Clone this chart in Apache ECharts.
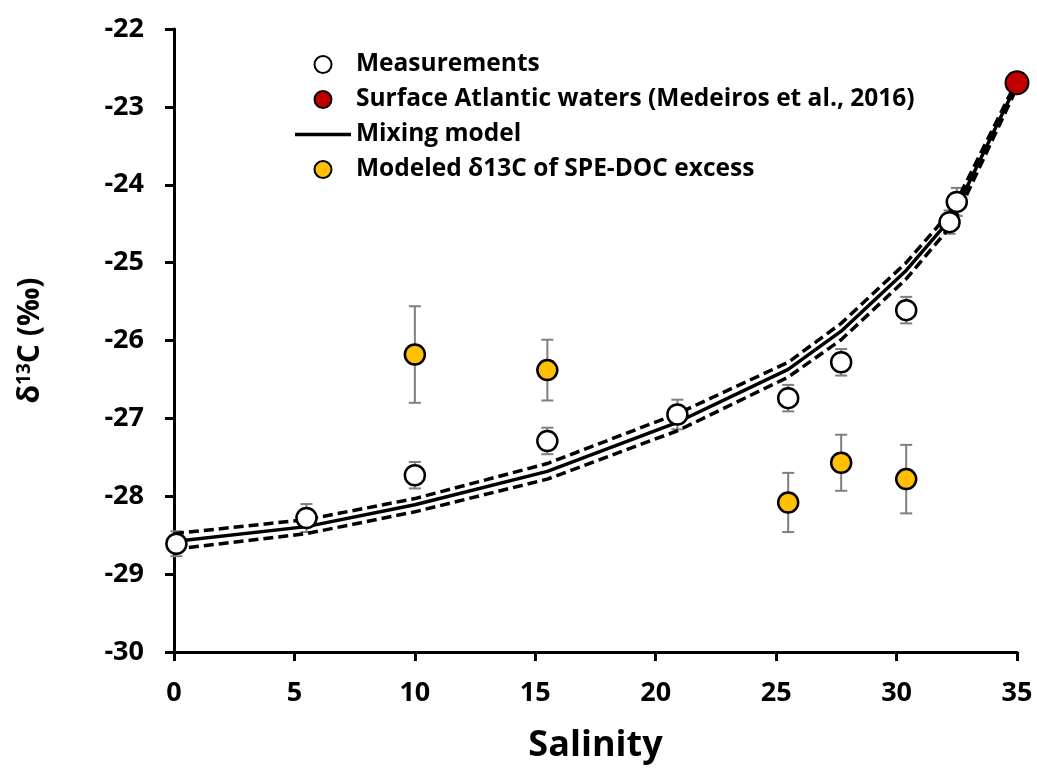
<!DOCTYPE html>
<html>
<head>
<meta charset="utf-8">
<script src="https://cdn.jsdelivr.net/npm/echarts@6/dist/echarts.min.js"></script>
<style>
  html, body { margin: 0; padding: 0; background: #fff; }
  #chart { width: 1037px; height: 769px; }
</style>
</head>
<body>
<div id="chart"></div>
<script>
// measurements (open circles)
var measX = [0.1, 5.5, 10.0, 15.5, 20.9, 25.5, 27.7, 30.4, 32.2, 32.5];
var measY = [-28.61, -28.28, -27.73, -27.29, -26.95, -26.74, -26.28, -25.61, -24.48, -24.22];
var measErr = [0.16, 0.18, 0.17, 0.17, 0.19, 0.17, 0.17, 0.17, 0.15, 0.18];

// surface Atlantic end member
var atlX = [35];
var atlY = [-22.69];

// modeled d13C of SPE-DOC excess
var excessX = [10.0, 15.5, 25.5, 27.7, 30.4];
var excessY = [-26.18, -26.38, -28.08, -27.57, -27.78];
var excessErr = [0.62, 0.39, 0.38, 0.36, 0.44];

// mixing model + bounds
var modelX = [0, 5.5, 10, 15.5, 20.9, 25.5, 27.7, 30.4, 32.2, 32.5, 35];
var modelMid = [-28.58, -28.39, -28.11, -27.68, -27.05, -26.37, -25.88, -25.10, -24.45, -24.30, -22.70];
var modelHi = [-28.48, -28.30, -28.03, -27.58, -26.94, -26.28, -25.78, -25.00, -24.36, -24.21, -22.66];
var modelLo = [-28.68, -28.48, -28.20, -27.78, -27.16, -26.47, -25.99, -25.21, -24.55, -24.40, -22.75];

var FONT = 'Open Sans';

function pairs(xs, ys) {
  return xs.map(function (x, i) { return [x, ys[i]]; });
}

function errorBars(xs, ys, errs) {
  return {
    type: 'custom',
    silent: true,
    z: 1,
    clip: false,
    encode: { x: 0, y: [1, 2] },
    data: xs.map(function (x, i) { return [x, ys[i] - errs[i], ys[i] + errs[i]]; }),
    renderItem: function (params, api) {
      var lo = api.coord([api.value(0), api.value(1)]);
      var hi = api.coord([api.value(0), api.value(2)]);
      var w = 6;
      var st = { stroke: '#7f7f7f', lineWidth: 2 };
      return {
        type: 'group',
        children: [
          { type: 'line', shape: { x1: lo[0], y1: lo[1], x2: hi[0], y2: hi[1] }, style: st },
          { type: 'line', shape: { x1: lo[0] - w, y1: lo[1], x2: lo[0] + w, y2: lo[1] }, style: st },
          { type: 'line', shape: { x1: hi[0] - w, y1: hi[1], x2: hi[0] + w, y2: hi[1] }, style: st }
        ]
      };
    }
  };
}

var myChart = echarts.init(document.getElementById('chart'));

var option = {
  backgroundColor: '#fff',
  animation: false,
  grid: { left: 174, right: 20, top: 29, bottom: 112 },
  legend: {
    orient: 'vertical',
    left: 290,
    top: 47,
    itemWidth: 56,
    itemHeight: 17,
    itemGap: 10,
    textStyle: { fontFamily: FONT, fontWeight: 'bold', fontSize: 24.5, color: '#000', lineHeight: 25 },
    data: [
      'Measurements',
      'Surface Atlantic waters (Medeiros et al., 2016)',
      { name: 'Mixing model', icon: 'path://M0,0 L56,0 L56,3.5 L0,3.5 Z' },
      'Modeled δ13C of SPE-DOC excess'
    ]
  },
  xAxis: {
    type: 'value',
    min: 0, max: 35, interval: 5,
    name: 'Salinity',
    nameLocation: 'middle',
    nameGap: 76,
    nameTextStyle: { fontFamily: FONT, fontWeight: 'bold', fontSize: 36, color: '#000' },
    axisLine: { lineStyle: { color: '#000', width: 3 } },
    axisTick: { show: true, length: 9, lineStyle: { color: '#000', width: 3 } },
    axisLabel: { margin: 28, fontFamily: FONT, fontWeight: 'bold', fontSize: 27, color: '#000' },
    splitLine: { show: false }
  },
  yAxis: {
    type: 'value',
    min: -30, max: -22, interval: 1,
    name: '{a|δ}{s|13}{a|C (‰)}',
    nameLocation: 'middle',
    nameRotate: 90,
    nameGap: 128,
    nameTextStyle: {
      fontFamily: FONT, fontWeight: 'bold', fontSize: 30, color: '#000',
      rich: {
        a: { fontFamily: FONT, fontWeight: 'bold', fontSize: 30, color: '#000' },
        s: { fontFamily: FONT, fontWeight: 'bold', fontSize: 19, color: '#000', verticalAlign: 'top', padding: [0, 0, 12, 0] }
      }
    },
    axisLine: { show: true, lineStyle: { color: '#000', width: 3 } },
    axisTick: { show: true, length: 9, lineStyle: { color: '#000', width: 3 } },
    axisLabel: { margin: 30, fontFamily: FONT, fontWeight: 'bold', fontSize: 27, color: '#000' },
    splitLine: { show: false }
  },
  series: [
    {
      name: 'Mixing model',
      type: 'line',
      data: pairs(modelX, modelMid),
      symbol: 'none',
      z: 2,
      lineStyle: { color: '#000', width: 3.5 },
      itemStyle: { color: '#000' }
    },
    {
      name: 'upper',
      type: 'line',
      data: pairs(modelX, modelHi),
      symbol: 'none',
      z: 2,
      lineStyle: { color: '#000', width: 3.5, type: [10, 5] }
    },
    {
      name: 'lower',
      type: 'line',
      data: pairs(modelX, modelLo),
      symbol: 'none',
      z: 2,
      lineStyle: { color: '#000', width: 3.5, type: [10, 5] }
    },
    errorBars(measX, measY, measErr),
    errorBars(excessX, excessY, excessErr),
    {
      name: 'Measurements',
      type: 'scatter',
      data: pairs(measX, measY),
      symbol: 'circle',
      symbolSize: 20,
      z: 3,
      clip: false,
      itemStyle: { color: '#fff', borderColor: '#000', borderWidth: 2.5, opacity: 1 }
    },
    {
      name: 'Modeled δ13C of SPE-DOC excess',
      type: 'scatter',
      data: pairs(excessX, excessY),
      symbol: 'circle',
      symbolSize: 20,
      z: 3,
      clip: false,
      itemStyle: { color: '#ffc000', borderColor: '#000', borderWidth: 2.5, opacity: 1 }
    },
    {
      name: 'Surface Atlantic waters (Medeiros et al., 2016)',
      type: 'scatter',
      data: pairs(atlX, atlY),
      symbol: 'circle',
      symbolSize: 23,
      z: 4,
      clip: false,
      itemStyle: { color: '#c00000', borderColor: '#000', borderWidth: 2, opacity: 1 }
    }
  ]
};

myChart.setOption(option);
</script>
</body>
</html>
